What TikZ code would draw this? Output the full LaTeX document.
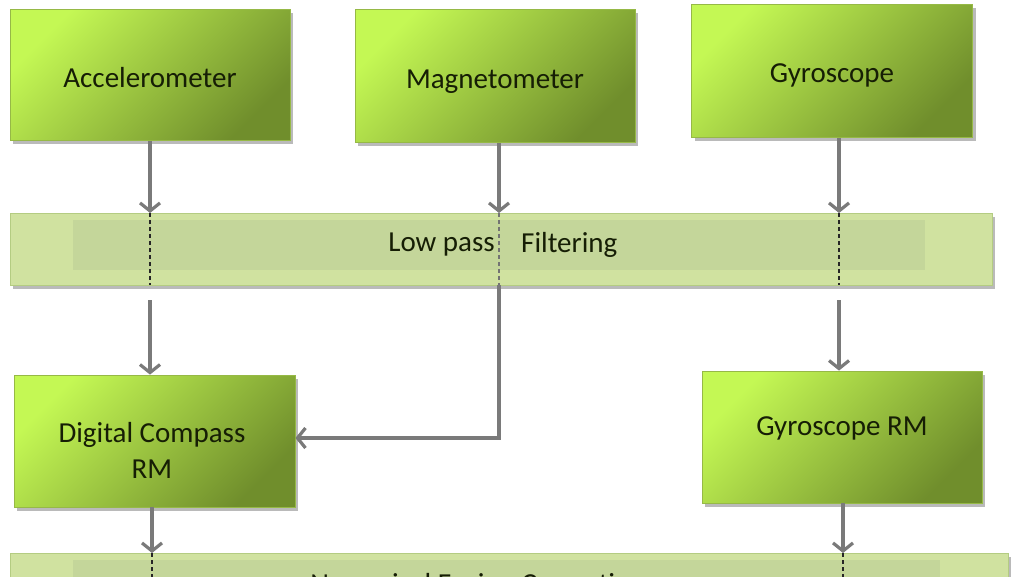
\documentclass[tikz,border=0pt]{standalone}
\usepackage{fontspec}
\setmainfont{Carlito}
\usetikzlibrary{arrows.meta,shadows,calc}
\definecolor{boxlight}{RGB}{196,248,84}
\definecolor{boxmid}{RGB}{160,208,66}
\definecolor{boxdark}{RGB}{112,142,44}
\definecolor{boxedge}{RGB}{150,185,70}
\definecolor{bandout}{RGB}{208,226,160}
\definecolor{bandin}{RGB}{196,214,154}
\definecolor{bandedge}{RGB}{180,204,130}
\definecolor{arrowgray}{RGB}{122,122,122}
\definecolor{txt}{RGB}{22,30,5}
\tikzset{
  x=1pt,y=-1pt,
  bigfont/.style={font=\fontsize{29}{36}\selectfont},
  sensor/.style={draw=boxedge, line width=0.8pt, left color=boxlight, middle color=boxmid, right color=boxdark, shading angle=45,
    drop shadow={shadow xshift=3pt, shadow yshift=-4pt, opacity=0.45, fill=black!60},
    text=txt, bigfont, align=center, inner sep=0pt},
  lowtext/.style={text height=31pt, text depth=6pt},
  labeltext/.style={text=txt, bigfont, align=center, inner sep=0pt},
  band/.style={draw=bandedge, line width=0.8pt, fill=bandout,
    drop shadow={shadow xshift=3pt, shadow yshift=-4pt, opacity=0.45, fill=black!60}},
  bandinner/.style={fill=bandin, draw=none},
  flow/.style={draw=arrowgray, line width=3.2pt, -{Straight Barb[length=8pt,width=20pt,line width=3.2pt]}},
  thru/.style={draw=black!85, line width=1.2pt, dash pattern=on 4pt off 3pt},
  bandtext/.style={text=txt, bigfont, inner sep=0pt},
}
\begin{document}
\begin{tikzpicture}
\clip (0,0) rectangle (1024,577);
\fill[white] (0,0) rectangle (1024,577);
% sensors
\node[sensor, lowtext, minimum width=280pt, minimum height=131pt] (acc) at (150,75) {Accelerometer};
\node[sensor, lowtext, minimum width=280pt, minimum height=133pt] (mag) at (495,76) {Magnetometer};
\node[sensor, text height=29pt, text depth=6pt, minimum width=281pt, minimum height=133pt] (gyr) at (832,71) {Gyroscope};
% low pass band
\path[band] (10,213) rectangle (992,285);
\node[bandinner, minimum width=852pt, minimum height=50pt, inner sep=0pt] (lpin) at (499,245) {};
\node[bandtext, anchor=east] (lp1) at (495,245) {Low pass};
\node[bandtext, anchor=west] (lp2) at (521,245) {Filtering};
\coordinate (lpAtop) at (150,213);
\coordinate (lpAbot) at (150,285);
\coordinate (lpMtop) at (499,213);
\coordinate (lpMbot) at (499,285);
\coordinate (lpGtop) at (839,213);
\coordinate (lpGbot) at (839,285);
% second row
\node[sensor, minimum width=281pt, minimum height=132pt] (dc) at (154.5,441) {};
\node[labeltext] (dct) at (152,450) {Digital Compass\\RM};
\node[sensor, minimum width=280pt, minimum height=132pt] (grm) at (842,437) {};
\node[labeltext] (grmt) at (842,428) {Gyroscope RM};
% bottom band
\path[band] (10,553) rectangle (1008,620);
\node[bandinner, minimum width=867pt, minimum height=60pt, inner sep=0pt] (nfin) at (506.5,590) {};
\node[bandtext] (nft) at (478,584) {Numerical Fusion Correction};
\coordinate (nfAtop) at (152,553);
\coordinate (nfGtop) at (843,553);
% connectors
\draw[flow] (acc.south -| lpAtop) -- (lpAtop);
\draw[flow] (mag.south -| lpMtop) -- (lpMtop);
\draw[flow] (gyr.south -| lpGtop) -- (lpGtop);
\draw[thru] (lpAtop) -- (lpAbot);
\draw[thru, draw=black!55] (lpMtop) -- (lpMbot);
\draw[thru] (lpGtop) -- (lpGbot);
\draw[flow] ($(lpAbot)+(0,15)$) -- (dc.north -| lpAbot);
\draw[flow] ($(lpGbot)+(0,15)$) -- (grm.north -| lpGbot);
\draw[flow] (lpMbot) |- (dc.east |- 0,438);
\draw[flow] (dc.south -| nfAtop) -- (nfAtop);
\draw[flow] (grm.south -| nfGtop) -- (nfGtop);
\draw[thru] (nfAtop) -- ++(0,30);
\draw[thru] (nfGtop) -- ++(0,30);
\end{tikzpicture}
\end{document}
